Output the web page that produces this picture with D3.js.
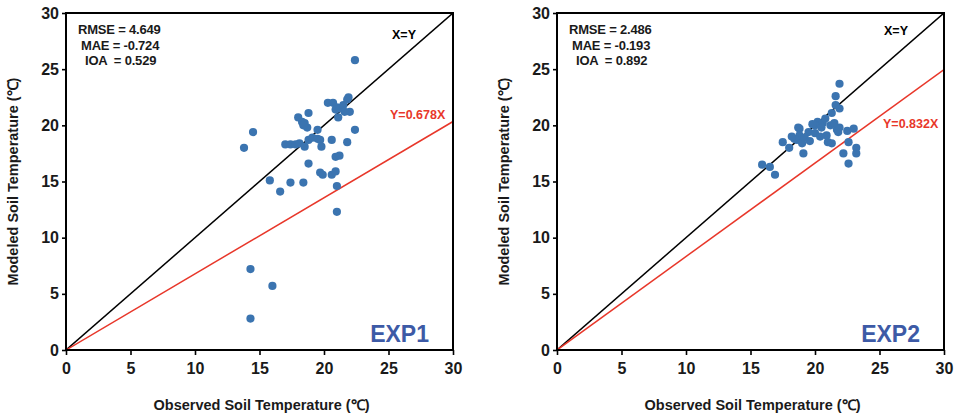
<!DOCTYPE html>
<html>
<head>
<meta charset="utf-8">
<script src="https://cdn.jsdelivr.net/npm/d3@7"></script>
<style>
  html, body { margin: 0; padding: 0; background: #fff; }
  svg { display: block; }
  text { font-family: "Liberation Sans", Arial, sans-serif; font-weight: bold; }
</style>
</head>
<body>
<svg id="chart" width="958" height="419"></svg>
<script>
// Observed vs. modeled soil temperature (°C) for two experiments
const exp1Observed = [22.4,14.5,13.8,17.0,17.4,17.8,18.1,18.5,18.8,19.1,19.5,19.7,18.0,18.3,18.5,18.8,18.7,18.4,19.5,
  20.3,20.7,21.0,20.9,21.2,21.5,21.8,21.9,22.0,21.6,21.1,22.4,20.6,19.8,21.8,20.9,21.2,18.8,19.7,19.9,20.6,20.9,21.0,
  15.8,16.6,17.4,18.4,14.3,16.0,14.3,21.0];
const exp1Modeled = [25.8,19.4,18.0,18.3,18.3,18.3,18.4,18.1,18.7,18.9,18.8,18.7,20.7,20.3,20.2,21.1,19.8,20.0,19.6,
  22.0,22.0,21.6,21.4,21.5,21.8,22.3,22.5,21.2,21.2,20.7,19.6,18.7,18.1,18.5,17.2,17.3,16.6,15.8,15.6,15.6,15.9,14.6,
  15.1,14.1,14.9,14.9,7.2,5.7,2.8,12.3];

const exp2Observed = [21.9,21.6,21.9,21.3,20.2,20.6,20.0,18.8,19.5,17.5,18.6,19.0,19.1,21.0,21.3,21.7,21.9,22.5,23.0,
  22.6,23.2,23.2,22.2,22.6,16.9,16.5,18.7,18.8,18.4,19.2,20.5,20.9,21.2,20.0,21.8,21.5,20.8,19.8,18.2,18.0,15.9,21.6,
  20.4,19.6];
const exp2Modeled = [23.7,22.6,21.5,21.1,20.3,20.2,20.0,19.7,19.4,18.5,18.7,18.4,17.5,18.5,18.4,19.6,19.8,19.5,19.7,
  18.5,18.0,17.5,17.5,16.6,15.6,16.3,19.8,19.1,18.8,18.9,19.8,19.1,20.0,19.3,19.4,20.2,20.6,20.1,19.0,18.0,16.5,21.8,
  19.0,18.6];

const panelNames = ["EXP1", "EXP2"];
const fitSlopes = [0.678, 0.832];
const rmseValues = ["4.649", "2.486"];
const maeValues = ["-0.724", "-0.193"];
const ioaValues = ["0.529", "0.892"];
const tickValues = [0, 5, 10, 15, 20, 25, 30];
const axisDomain = [0, 30];
const xTitle = "Observed Soil Temperature (℃)";
const yTitle = "Modeled Soil Temperature (℃)";

const svg = d3.select("#chart");
const pointColor = "#3b74b0";
const fitColor = "#e8372a";
const nameColor = "#3d5aa6";

const panels = [
  { left: 66, obs: exp1Observed, mod: exp1Modeled, oneLbl: [392, 39], fitLbl: [390, 119] },
  { left: 557, obs: exp2Observed, mod: exp2Modeled, oneLbl: [884, 35], fitLbl: [883, 128] }
];
const plotTop = 13, plotBottom = 350, plotW = 387;

panels.forEach((p, i) => {
  const x = d3.scaleLinear().domain(axisDomain).range([p.left, p.left + plotW]);
  const y = d3.scaleLinear().domain(axisDomain).range([plotBottom, plotTop]);
  const g = svg.append("g");

  const clipId = "clip" + i;
  g.append("clipPath").attr("id", clipId)
    .append("rect").attr("x", p.left).attr("y", plotTop).attr("width", plotW).attr("height", plotBottom - plotTop);

  // 1:1 reference line and fitted line through origin
  const lines = g.append("g").attr("clip-path", `url(#${clipId})`);
  lines.append("line")
    .attr("x1", x(0)).attr("y1", y(0)).attr("x2", x(30)).attr("y2", y(30))
    .attr("stroke", "#000").attr("stroke-width", 1.5);
  lines.append("line")
    .attr("x1", x(0)).attr("y1", y(0)).attr("x2", x(30)).attr("y2", y(30 * fitSlopes[i]))
    .attr("stroke", fitColor).attr("stroke-width", 1.5);

  // scatter points
  g.append("g").selectAll("circle")
    .data(p.obs.map((v, k) => [v, p.mod[k]]))
    .join("circle")
    .attr("cx", d => x(d[0])).attr("cy", d => y(d[1]))
    .attr("r", 4.1).attr("fill", pointColor);

  // frame
  g.append("rect").attr("x", p.left).attr("y", plotTop).attr("width", plotW).attr("height", plotBottom - plotTop)
    .attr("fill", "none").attr("stroke", "#000").attr("stroke-width", 2);

  // axes
  const xAxis = g.append("g").attr("transform", `translate(0,${plotBottom})`)
    .call(d3.axisBottom(x).tickValues(tickValues).tickSize(5).tickPadding(8).tickFormat(d3.format("d")));
  const yAxis = g.append("g").attr("transform", `translate(${p.left},0)`)
    .call(d3.axisLeft(y).tickValues(tickValues).tickSize(4).tickPadding(3).tickFormat(d3.format("d")));
  [xAxis, yAxis].forEach(a => {
    a.select(".domain").remove();
    a.selectAll(".tick line").attr("stroke", "#000").attr("stroke-width", 1.6);
    a.selectAll(".tick text").attr("fill", "#1a1a1a").style("font-size", "16px")
      .style("font-family", "'Liberation Sans', Arial, sans-serif").style("font-weight", "bold");
  });

  // axis titles
  g.append("text").attr("x", p.left + plotW / 2 + 2).attr("y", 410)
    .attr("text-anchor", "middle").attr("font-size", 14.5).attr("fill", "#1a1a1a").text(xTitle);
  g.append("text")
    .attr("transform", `translate(${p.left - 48},${(plotTop + plotBottom) / 2}) rotate(-90)`)
    .attr("text-anchor", "middle").attr("font-size", 14.5).attr("fill", "#1a1a1a").text(yTitle);

  // statistics
  const stats = [["RMSE = " + rmseValues[i], 12, 34], ["MAE = " + maeValues[i], 15, 50], ["IOA  = " + ioaValues[i], 19, 65]];
  stats.forEach(s => {
    g.append("text").attr("x", p.left + s[1]).attr("y", s[2])
      .attr("font-size", 13).attr("letter-spacing", "-0.2px").attr("fill", "#1a1a1a")
      .style("white-space", "pre").text(s[0]);
  });

  // line labels
  g.append("text").attr("x", p.oneLbl[0]).attr("y", p.oneLbl[1])
    .attr("font-size", 12.5).attr("fill", "#000").text("X=Y");
  g.append("text").attr("x", p.fitLbl[0]).attr("y", p.fitLbl[1])
    .attr("font-size", 12.5).attr("fill", fitColor).text("Y=" + fitSlopes[i] + "X");

  // experiment name
  g.append("text").attr("x", p.left + plotW - 24).attr("y", 342)
    .attr("text-anchor", "end").attr("font-size", 23).attr("fill", nameColor).text(panelNames[i]);
});
</script>
</body>
</html>
